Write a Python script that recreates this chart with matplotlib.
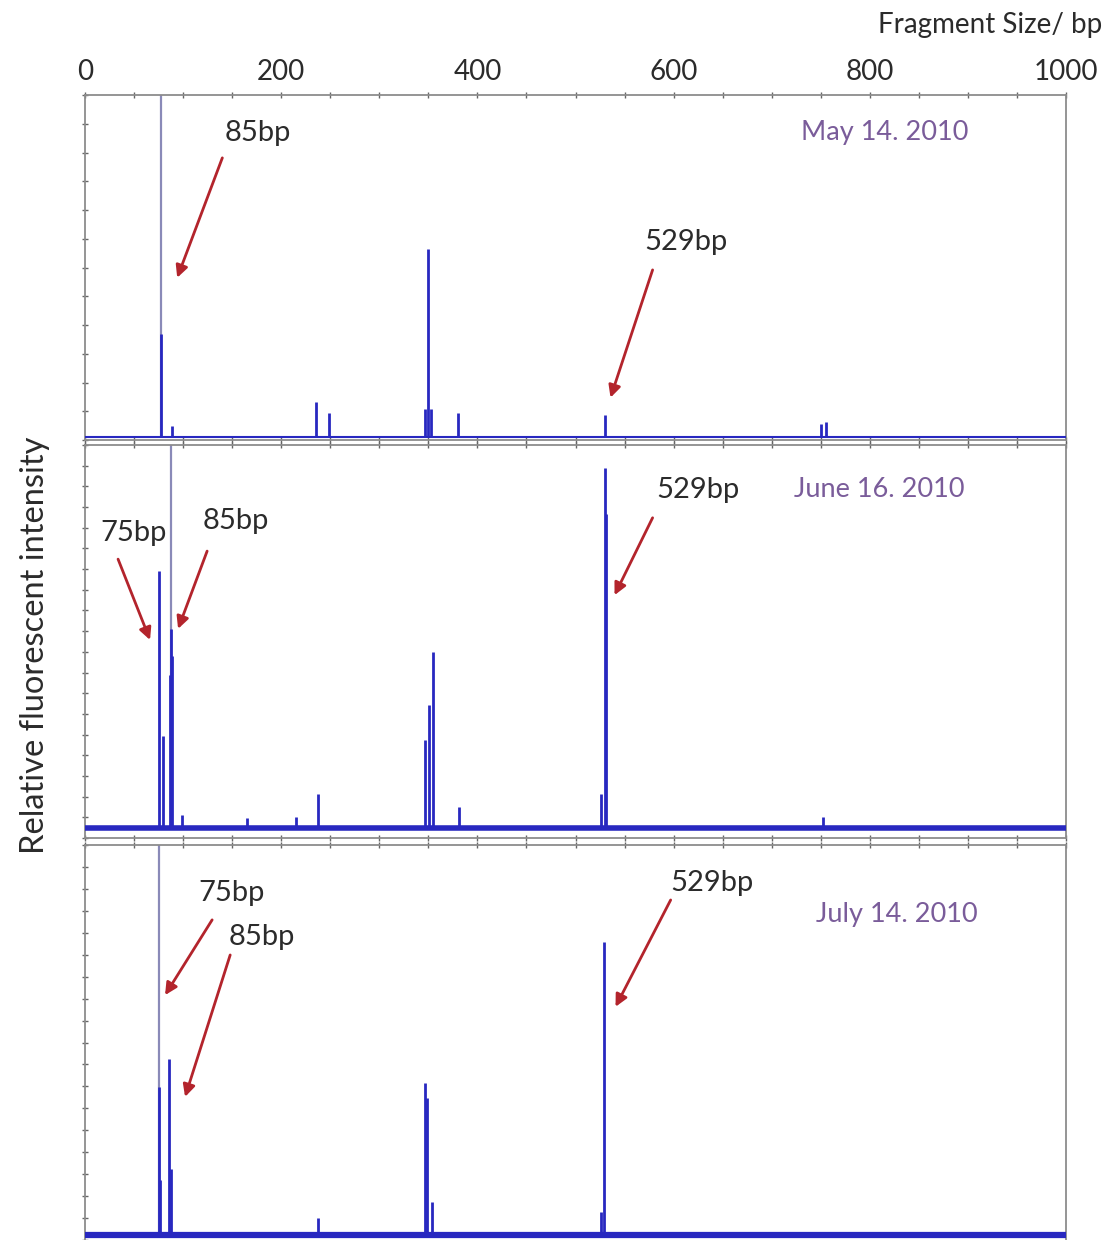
import numpy as np
import matplotlib
matplotlib.use("Agg")
import matplotlib.pyplot as plt

plt.rcParams['font.family'] = ['Lato', 'DejaVu Sans']

# --- peak tables (fragment size in bp, height in % of full scale) ---
may_sizes = [77.6, 88.8, 235.7, 249.0, 347.0, 350.0, 353.0, 380.6, 529.6, 750.0, 755.0]
may_heights = [30, 3, 10, 7, 8, 55, 8, 7, 6.4, 3.8, 4.4]
may_offscale = [77.6]

june_sizes = [75.5, 79.6, 86.8, 87.8, 88.8, 99.0, 165.0, 215.0, 237.8, 347.0, 351.0, 355.0,
              381.6, 525.5, 529.6, 531.6, 752.0]
june_heights = [67, 24, 40, 52, 45, 3.4, 2.6, 3, 9, 23, 32, 46, 5.5, 9, 94, 82, 3]
june_offscale = [87.8]

july_sizes = [75.5, 76.5, 85.7, 87.8, 237.8, 347.0, 349.0, 354.0, 526.5, 528.6]
july_heights = [38, 14, 45, 17, 4.4, 39, 35, 8.5, 6, 75]
july_offscale = [75.5]

dates = ["May 14. 2010", "June 16. 2010", "July 14. 2010"]

# label text, text pos (bp, %), arrow start, arrow tip
may_notes = [("85bp", (176, 89), (140, 81.6), (94, 46.5)),
             ("529bp", (613, 57), (578.6, 48.8), (535.7, 11.4))]
june_notes = [("75bp", (49, 77), (33.7, 70.2), (66.3, 49.1)),
              ("85bp", (154, 80.2), (124.5, 72.3), (94.9, 52)),
              ("529bp", (624.5, 88.3), (578.6, 81), (539.8, 60.8))]
july_notes = [("75bp", (149, 87.7), (129.6, 80.8), (81.6, 61.5)),
              ("85bp", (180.6, 76.4), (148, 71.8), (102, 35.4)),
              ("529bp", (638.8, 90.3), (597, 85.9), (540.8, 58.5))]
date_pos = [(815, 89), (810, 88.3), (827.6, 82.3)]

TRACE = '#2828c0'
LIGHT = '#8a8ab8'
ARROW = '#b3242c'
FRAME = '#8c8c8c'
DATE = '#7a5c9a'
INK = '#2b2b2b'

W, H = 1120, 1240
fig = plt.figure(figsize=(W / 100, H / 100), dpi=100)

# panel extents in pixels: (top, bottom), ylim low, baseline width, y tick count
panels = [((95, 440), -1.0, 1.5, 12),
          ((445, 838), -2.6, 4.0, 19),
          ((845, 1240), -1.3, 4.5, 18)]
data = [(may_sizes, may_heights, may_offscale, may_notes),
        (june_sizes, june_heights, june_offscale, june_notes),
        (july_sizes, july_heights, july_offscale, july_notes)]

for i, (((top, bot), ylo, blw, nyt), (sz, ht, off, notes)) in enumerate(zip(panels, data)):
    ax = fig.add_axes([85 / W, 1 - bot / H, 981 / W, (bot - top) / H])
    ax.set_xlim(0, 1000)
    ax.set_ylim(ylo, 100)

    # off-scale peaks run past the top of the panel
    ax.vlines(off, 0, 110, color=LIGHT, lw=1.6, zorder=2)
    ax.vlines(sz, 0, ht, color=TRACE, lw=2.0, zorder=3)
    ax.axhline(0, color=TRACE, lw=blw, zorder=3)

    for txt, tpos, start, tip in notes:
        ax.text(tpos[0], tpos[1], txt, ha='center', va='center', fontsize=21, color=INK)
        ax.annotate('', xy=tip, xytext=start,
                    arrowprops=dict(arrowstyle='-|>', color=ARROW, lw=2,
                                    mutation_scale=18, shrinkA=0, shrinkB=0))
    ax.text(date_pos[i][0], date_pos[i][1], dates[i], ha='center', va='center',
            fontsize=19.5, color=DATE)

    for s in ax.spines.values():
        s.set_color(FRAME)
        s.set_linewidth(1.3)
    if i == 2:
        ax.spines['bottom'].set_visible(False)

    ax.set_xticks(np.arange(0, 1001, 200))
    ax.set_xticks(np.arange(0, 1001, 50), minor=True)
    ax.set_yticks(np.linspace(ylo, 100, nyt + 1))
    ax.tick_params(axis='both', which='both', direction='inout', length=4,
                   color='#666666', width=1, top=True, bottom=(i != 2),
                   labelbottom=False, labelleft=False)
    if i == 0:
        ax.tick_params(axis='x', labeltop=True, labelsize=20, pad=5,
                       labelcolor=INK)

fig.text(1102 / W, 1 - 25 / H, "Fragment Size/ bp", ha='right', va='center',
         fontsize=20, color=INK)
fig.text(35 / W, 1 - 645 / H, "Relative fluorescent intensity", rotation=90,
         ha='center', va='center', fontsize=23.5, color=INK)

fig.savefig("out.png", dpi=100)
